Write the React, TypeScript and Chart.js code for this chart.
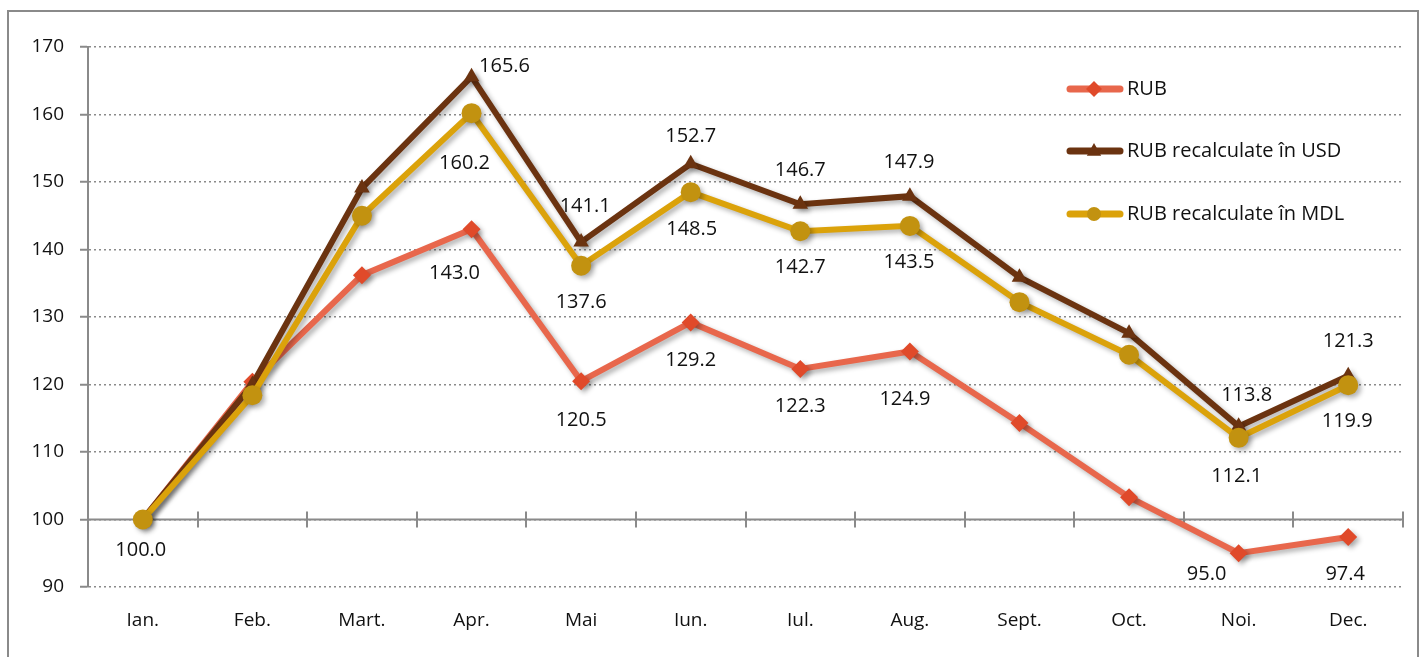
import React, { useEffect, useRef } from "react";
import { Chart, registerables } from "chart.js";

Chart.register(...registerables);

// ---- data ----
const months = ["Ian.", "Feb.", "Mart.", "Apr.", "Mai", "Iun.", "Iul.", "Aug.", "Sept.", "Oct.", "Noi.", "Dec."];
const rubValues = [100.0, 120.4, 136.2, 143.0, 120.5, 129.2, 122.3, 124.9, 114.3, 103.3, 95.0, 97.4];
const usdValues = [100.0, 120.0, 149.1, 165.6, 141.1, 152.7, 146.7, 147.9, 135.9, 127.6, 113.8, 121.3];
const mdlValues = [100.0, 118.4, 145.0, 160.2, 137.6, 148.5, 142.7, 143.5, 132.2, 124.4, 112.1, 119.9];
const seriesNames = ["RUB", "RUB recalculate în USD", "RUB recalculate în MDL"];
const yMin = 90;
const yMax = 170;
const yStep = 10;
const axisCrossValue = 100;
// which points carry a value label
const rubLabeled = [true, false, false, true, true, true, true, true, false, false, true, true];
const usdLabeled = [false, false, false, true, true, true, true, true, false, false, true, true];
const mdlLabeled = [false, false, false, true, true, true, true, true, false, false, true, true];

// ---- styling (label offsets in px, relative to point) ----
const rubOffsets: ([number, number] | null)[] = [[-2, 31], null, null, [-17, 44], [0, 39], [0, 38], [0, 37], [-5, 48], null, null, [-32, 21], [-3, 37]];
const usdOffsets: ([number, number] | null)[] = [null, null, null, [33, -10], [4, -36], [0, -27], [0, -34], [-1, -34], null, null, [8, -31], [0, -34]];
const mdlOffsets: ([number, number] | null)[] = [null, null, null, [-7, 50], [0, 37], [1, 37], [0, 36], [-1, 36], null, null, [-2, 38], [-1, 36]];

const FONT = "'Open Sans', 'Noto Sans', sans-serif";
const GRAY = "#8a8a8a";
const TEXT = "#111111";
const RED_LINE = "#e8674c";
const RED_PT = "#e04a2a";
const BROWN = "#6b3310";
const GOLD_LINE = "#dba20a";
const GOLD_PT = "#c29210";

function drawMarker(ctx: CanvasRenderingContext2D, kind: string, x: number, y: number, r: number, color: string) {
  ctx.save();
  ctx.fillStyle = color;
  ctx.beginPath();
  if (kind === "diamond") {
    ctx.moveTo(x, y - r);
    ctx.lineTo(x + r, y);
    ctx.lineTo(x, y + r);
    ctx.lineTo(x - r, y);
    ctx.closePath();
  } else if (kind === "triangle") {
    ctx.moveTo(x, y - r);
    ctx.lineTo(x + r * 0.9, y + r * 0.6);
    ctx.lineTo(x - r * 0.9, y + r * 0.6);
    ctx.closePath();
  } else {
    ctx.arc(x, y, r, 0, Math.PI * 2);
  }
  ctx.fill();
  ctx.restore();
}

const decorPlugin = {
  id: "decor",
  beforeDatasetsDraw(chart: any) {
    const { ctx, chartArea, scales } = chart;
    const y = scales.y;
    const yp = y.getPixelForValue(axisCrossValue);
    ctx.save();
    ctx.strokeStyle = GRAY;
    ctx.lineWidth = 2;
    ctx.setLineDash([]);
    ctx.beginPath();
    ctx.moveTo(chartArea.left, yp);
    ctx.lineTo(chartArea.right, yp);
    // category boundary ticks
    const n = months.length;
    const w = (chartArea.right - chartArea.left) / n;
    for (let i = 1; i <= n; i++) {
      const tx = Math.round(chartArea.left + i * w);
      ctx.moveTo(tx, yp - 8);
      ctx.lineTo(tx, yp + 8);
    }
    ctx.stroke();
    ctx.restore();
  },
  beforeDatasetDraw(chart: any) {
    const ctx = chart.ctx;
    ctx.save();
    ctx.shadowColor = "rgba(0,0,0,0.3)";
    ctx.shadowBlur = 5;
    ctx.shadowOffsetX = 3;
    ctx.shadowOffsetY = 3;
  },
  afterDatasetDraw(chart: any) {
    chart.ctx.restore();
  },
  afterDraw(chart: any) {
    const { ctx, width, scales } = chart;
    // frame
    ctx.save();
    ctx.strokeStyle = GRAY;
    ctx.lineWidth = 2;
    ctx.beginPath();
    ctx.moveTo(8, 680);
    ctx.lineTo(8, 11);
    ctx.lineTo(width - 5, 11);
    ctx.lineTo(width - 5, 680);
    ctx.stroke();
    ctx.restore();

    // value labels
    const groups: [number[], boolean[], ([number, number] | null)[]][] = [
      [rubValues, rubLabeled, rubOffsets],
      [usdValues, usdLabeled, usdOffsets],
      [mdlValues, mdlLabeled, mdlOffsets],
    ];
    ctx.save();
    ctx.font = `20px ${FONT}`;
    ctx.fillStyle = TEXT;
    ctx.textAlign = "center";
    ctx.textBaseline = "middle";
    groups.forEach(([vals, flags, offs]) => {
      vals.forEach((v, i) => {
        if (!flags[i]) return;
        const o = offs[i] || [0, 0];
        const px = scales.x.getPixelForValue(i);
        const py = scales.y.getPixelForValue(v);
        ctx.fillText(v.toFixed(1), px + o[0], py + o[1]);
      });
    });
    ctx.restore();

    // legend
    const entries = [
      { name: seriesNames[0], line: RED_LINE, pt: RED_PT, kind: "diamond", y: 89 },
      { name: seriesNames[1], line: BROWN, pt: BROWN, kind: "triangle", y: 151 },
      { name: seriesNames[2], line: GOLD_LINE, pt: GOLD_PT, kind: "circle", y: 214 },
    ];
    ctx.save();
    entries.forEach((e) => {
      ctx.strokeStyle = e.line;
      ctx.lineWidth = 7;
      ctx.lineCap = "round";
      ctx.beginPath();
      ctx.moveTo(1070, e.y);
      ctx.lineTo(1120, e.y);
      ctx.stroke();
      drawMarker(ctx, e.kind, 1094, e.y, e.kind === "circle" ? 7 : 8, e.pt);
      ctx.font = `20px ${FONT}`;
      ctx.fillStyle = TEXT;
      ctx.textAlign = "left";
      ctx.textBaseline = "middle";
      ctx.fillText(e.name, 1127, e.y);
    });
    ctx.restore();
  },
};

export default function App() {
  const ref = useRef<HTMLCanvasElement | null>(null);
  useEffect(() => {
    if (!ref.current) return;
    const chart = new Chart(ref.current, {
      type: "line",
      data: {
        labels: months,
        datasets: [
          {
            label: seriesNames[0],
            data: rubValues,
            borderColor: RED_LINE,
            backgroundColor: RED_PT,
            pointBackgroundColor: RED_PT,
            pointBorderColor: RED_PT,
            pointBorderWidth: 0,
            pointStyle: "rectRot",
            pointRadius: 9,
            borderWidth: 6,
            tension: 0,
            order: 2,
            clip: false,
          },
          {
            label: seriesNames[1],
            data: usdValues,
            borderColor: BROWN,
            backgroundColor: BROWN,
            pointBackgroundColor: BROWN,
            pointBorderColor: BROWN,
            pointBorderWidth: 0,
            pointStyle: "triangle",
            pointRadius: 9,
            borderWidth: 6,
            tension: 0,
            order: 1,
            clip: false,
          },
          {
            label: seriesNames[2],
            data: mdlValues,
            borderColor: GOLD_LINE,
            backgroundColor: GOLD_PT,
            pointBackgroundColor: GOLD_PT,
            pointBorderColor: GOLD_PT,
            pointBorderWidth: 0,
            pointStyle: "circle",
            pointRadius: 10,
            borderWidth: 6,
            tension: 0,
            order: 0,
            clip: false,
          },
        ] as any,
      },
      options: {
        animation: false,
        responsive: true,
        maintainAspectRatio: false,
        layout: { padding: { left: 0, top: 47, right: 20, bottom: 0 } },
        plugins: { legend: { display: false }, tooltip: { enabled: false } },
        scales: {
          x: {
            offset: true,
            grid: { display: false, drawTicks: false },
            border: { display: false },
            ticks: { font: { family: FONT, size: 19 }, color: TEXT, padding: 22, maxRotation: 0 },
            afterFit: (s: any) => {
              s.height = 70;
            },
          },
          y: {
            min: yMin,
            max: yMax,
            ticks: { stepSize: yStep, font: { family: FONT, size: 19 }, color: TEXT, padding: 16 },
            grid: {
              color: GRAY,
              lineWidth: 1.5,
              tickLength: 8,
              tickColor: GRAY,
              tickWidth: 2,
              tickBorderDash: [],
            },
            border: { display: true, color: GRAY, width: 2, dash: [2, 3] },
            afterFit: (s: any) => {
              s.width = 88;
            },
          },
        } as any,
      },
      plugins: [decorPlugin],
    });
    return () => chart.destroy();
  }, []);
  return (
    <div style={{ position: "fixed", left: 0, top: 0, width: 1423, height: 657, background: "#fff" }}>
      <canvas ref={ref} />
    </div>
  );
}
